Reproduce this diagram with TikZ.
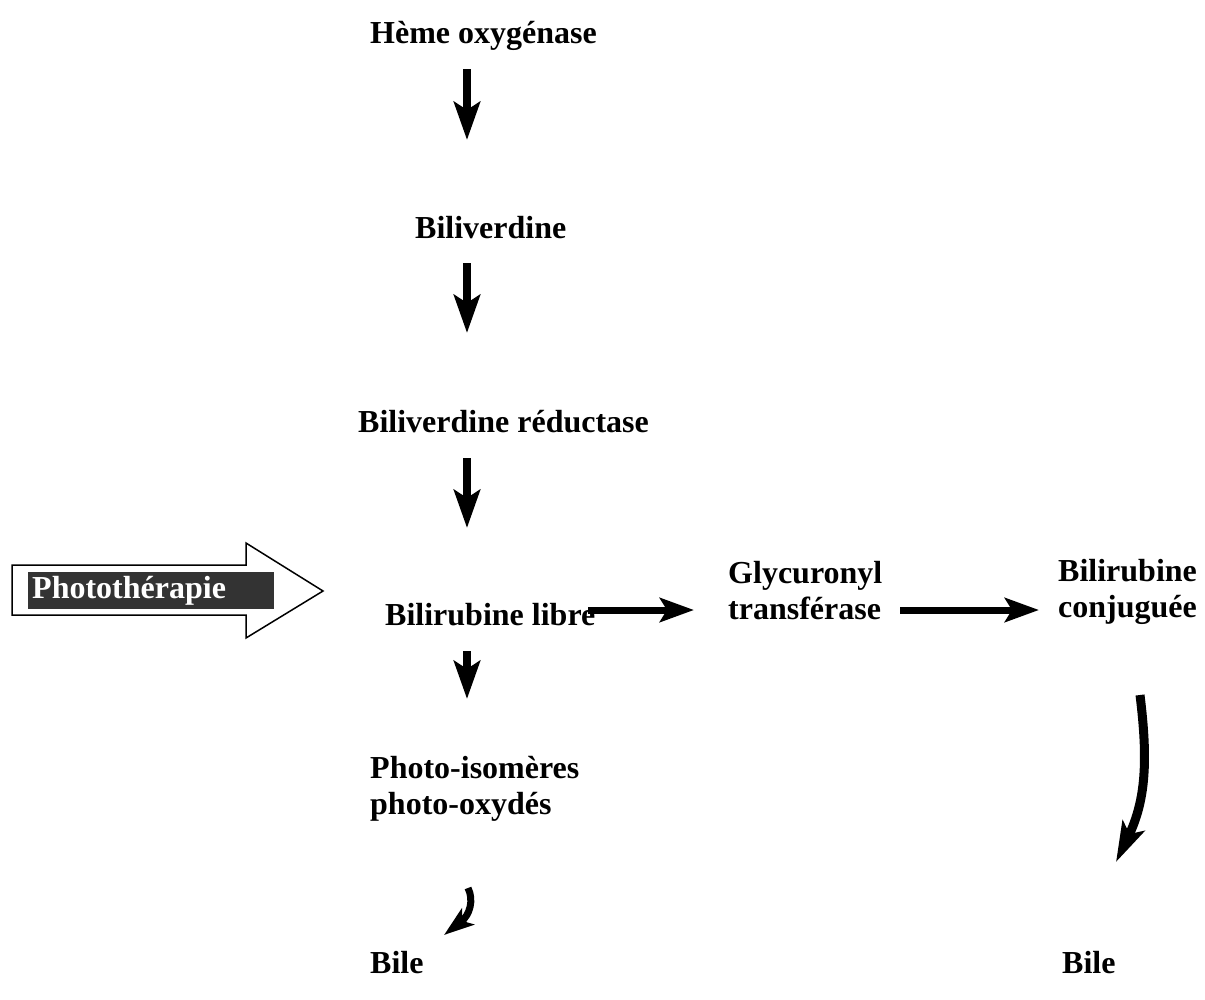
\documentclass[tikz,border=0pt]{standalone}
\usepackage{fontspec}
\setmainfont{Liberation Serif}
\usetikzlibrary{arrows.meta}
\definecolor{boxgray}{HTML}{333333}
\begin{document}
\begin{tikzpicture}[x=1pt,y=-1pt,
  lbl/.style={anchor=base west, inner sep=0pt, align=left,
    font=\fontsize{32}{36}\selectfont\bfseries},
  varrow/.style={line width=8pt, -{Stealth[length=38pt,width=26pt,inset=8pt]}},
  harrow/.style={line width=7pt, -{Stealth[length=34pt,width=24pt,inset=7pt]}},
  carrow/.style={line width=9pt, -{Stealth[length=40pt,width=24pt,inset=9pt]}},
  sarrow/.style={line width=7pt, -{Stealth[length=30pt,width=20pt,inset=7pt]}}]
\useasboundingbox (0,0) rectangle (1205,999);

% text nodes (base = baseline of the last line)
\node[lbl] (heme)  at (370,43)  {Hème oxygénase};
\node[lbl] (biliv) at (415,238) {Biliverdine};
\node[lbl] (bvr)   at (358,432) {Biliverdine réductase};
\node[lbl] (brl)   at (385,625) {Bilirubine libre};
\node[lbl] (glyc)  at (728,619) {Glycuronyl\\transférase};
\node[lbl] (bconj) at (1058,617) {Bilirubine\\conjuguée};
\node[lbl] (piso)  at (370,814) {Photo-isomères\\photo-oxydés};
\node[lbl] (bile1) at (370,973) {Bile};
\node[lbl] (bile2) at (1062,973) {Bile};

% phototherapy arrow
\draw[line width=1.5pt, fill=white] (12,565) -- (246,565) -- (246,543) -- (323,591)
  -- (246,638) -- (246,615) -- (12,615) -- cycle;
\node[fill=boxgray, text=white, inner sep=0pt, minimum height=37pt,
  anchor=north west, font=\fontsize{32}{36}\selectfont\bfseries,
  text height=23pt, text depth=8pt, align=left, text width=246pt] (photo) at (28,572)
  {\hspace*{4pt}Photothérapie};

% coordinates for the connectors
\coordinate (a1s) at (467,69);  \coordinate (a1e) at (467,140);
\coordinate (a2s) at (467,263); \coordinate (a2e) at (467,333);
\coordinate (a3s) at (467,458); \coordinate (a3e) at (467,528);
\coordinate (a4s) at (467,651); \coordinate (a4e) at (467,699);
\coordinate (h1s) at (588,610); \coordinate (h1e) at (694,610);
\coordinate (h2s) at (900,610); \coordinate (h2e) at (1039,610);
\coordinate (c1s) at (1140,695); \coordinate (c1e) at (1116,862);
\coordinate (c2s) at (468,888); \coordinate (c2e) at (444,935);

\draw[varrow] (a1s) -- (a1e);
\draw[varrow] (a2s) -- (a2e);
\draw[varrow] (a3s) -- (a3e);
\draw[varrow] (a4s) -- (a4e);
\draw[harrow] (h1s) -- (h1e);
\draw[harrow] (h2s) -- (h2e);
\draw[carrow] (c1s) .. controls (1148,760) and (1146,800) .. (c1e);
\draw[sarrow] (c2s) .. controls (474,900) and (470,915) .. (c2e);
\end{tikzpicture}
\end{document}
